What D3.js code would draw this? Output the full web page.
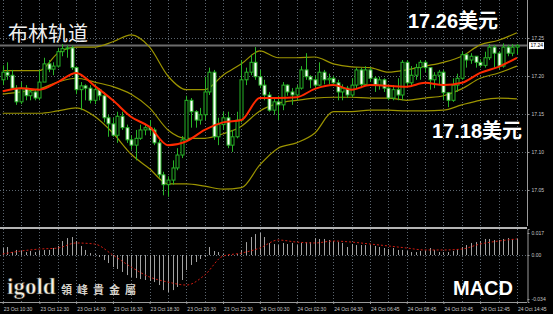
<!DOCTYPE html>
<html>
<head>
<meta charset="utf-8">
<script src="https://cdn.jsdelivr.net/npm/d3@7"></script>
<style>
  html, body { margin: 0; padding: 0; background: #000; }
  svg { display: block; }
</style>
</head>
<body>
<div id="chart"></div>
<script>

// chart data (M15 silver candles, 23 Oct 10:30 -> 24 Oct 14:45)

var firstOpen = 17.195;
var closes = [17.205, 17.201, 17.184, 17.166, 17.184, 17.174, 17.179, 17.171, 17.192, 17.216,
  17.209, 17.213, 17.232, 17.236, 17.237, 17.211, 17.182, 17.187, 17.184, 17.168,
  17.182, 17.174, 17.145, 17.137, 17.122, 17.147, 17.132, 17.116, 17.109, 17.118,
  17.129, 17.132, 17.129, 17.112, 17.070, 17.057, 17.063, 17.079, 17.096, 17.116,
  17.168, 17.153, 17.142, 17.149, 17.179, 17.205, 17.120, 17.136, 17.145, 17.109,
  17.120, 17.142, 17.195, 17.205, 17.218, 17.199, 17.188, 17.175, 17.155, 17.166,
  17.162, 17.188, 17.179, 17.175, 17.184, 17.208, 17.199, 17.195, 17.188, 17.205,
  17.195, 17.197, 17.191, 17.179, 17.184, 17.175, 17.188, 17.208, 17.189, 17.208,
  17.197, 17.188, 17.195, 17.184, 17.171, 17.182, 17.175, 17.218, 17.191, 17.201,
  17.211, 17.218, 17.211, 17.195, 17.201, 17.205, 17.178, 17.168, 17.188, 17.197,
  17.228, 17.221, 17.226, 17.218, 17.214, 17.224, 17.238, 17.230, 17.213, 17.238,
  17.230, 17.238, 17.240];
var highs = [17.214, 17.218, 17.208, 17.188, 17.192, 17.188, 17.184, 17.182, 17.208, 17.224,
  17.221, 17.218, 17.237, 17.242, 17.241, 17.240, 17.213, 17.192, 17.189, 17.188,
  17.189, 17.184, 17.179, 17.149, 17.145, 17.153, 17.153, 17.136, 17.122, 17.129,
  17.136, 17.137, 17.142, 17.132, 17.116, 17.074, 17.068, 17.089, 17.105, 17.121,
  17.174, 17.171, 17.155, 17.158, 17.199, 17.211, 17.208, 17.145, 17.153, 17.153,
  17.129, 17.153, 17.221, 17.211, 17.228, 17.238, 17.208, 17.195, 17.179, 17.171,
  17.174, 17.192, 17.189, 17.184, 17.188, 17.213, 17.230, 17.201, 17.200, 17.218,
  17.208, 17.203, 17.200, 17.195, 17.189, 17.187, 17.197, 17.211, 17.211, 17.213,
  17.211, 17.200, 17.199, 17.197, 17.187, 17.188, 17.197, 17.221, 17.221, 17.213,
  17.216, 17.221, 17.221, 17.208, 17.205, 17.208, 17.208, 17.179, 17.197, 17.203,
  17.232, 17.230, 17.230, 17.224, 17.222, 17.232, 17.242, 17.241, 17.232, 17.243,
  17.241, 17.242, 17.242];
var lows = [17.188, 17.195, 17.182, 17.162, 17.163, 17.168, 17.168, 17.168, 17.168, 17.195,
  17.205, 17.201, 17.211, 17.226, 17.224, 17.208, 17.176, 17.155, 17.168, 17.164,
  17.163, 17.168, 17.139, 17.120, 17.120, 17.112, 17.129, 17.112, 17.103, 17.089,
  17.116, 17.122, 17.122, 17.109, 17.066, 17.043, 17.041, 17.057, 17.076, 17.092,
  17.113, 17.132, 17.132, 17.136, 17.142, 17.175, 17.116, 17.109, 17.129, 17.105,
  17.100, 17.118, 17.139, 17.188, 17.201, 17.195, 17.184, 17.168, 17.153, 17.149,
  17.142, 17.155, 17.174, 17.162, 17.168, 17.182, 17.195, 17.184, 17.184, 17.187,
  17.189, 17.189, 17.187, 17.168, 17.168, 17.171, 17.172, 17.184, 17.184, 17.187,
  17.192, 17.179, 17.182, 17.179, 17.168, 17.168, 17.168, 17.168, 17.187, 17.188,
  17.195, 17.195, 17.205, 17.182, 17.184, 17.188, 17.168, 17.159, 17.166, 17.179,
  17.195, 17.211, 17.216, 17.211, 17.211, 17.211, 17.221, 17.211, 17.209, 17.211,
  17.226, 17.226, 17.229];

// bollinger bands + red MA, one value every 4 candles
var bandStep = 4;
var upperBand = [17.207, 17.207, 17.207, 17.230, 17.238, 17.238, 17.245, 17.254, 17.238, 17.200,
  17.182, 17.182, 17.201, 17.216, 17.233, 17.224, 17.224, 17.225, 17.216, 17.212,
  17.211, 17.205, 17.208, 17.213, 17.218, 17.226, 17.241, 17.247, 17.257];
var middleBand = [17.176, 17.179, 17.183, 17.192, 17.197, 17.192, 17.186, 17.176, 17.158, 17.129,
  17.118, 17.118, 17.124, 17.134, 17.154, 17.164, 17.168, 17.171, 17.172, 17.172,
  17.171, 17.171, 17.168, 17.171, 17.174, 17.183, 17.197, 17.204, 17.213];
var lowerBand = [17.151, 17.151, 17.151, 17.154, 17.158, 17.147, 17.125, 17.097, 17.078, 17.058,
  17.058, 17.055, 17.051, 17.053, 17.083, 17.105, 17.112, 17.125, 17.153, 17.153,
  17.155, 17.155, 17.154, 17.154, 17.155, 17.162, 17.168, 17.171, 17.170];
var redMA = [17.180, 17.184, 17.182, 17.192, 17.204, 17.187, 17.168, 17.146, 17.133, 17.109,
  17.114, 17.129, 17.139, 17.142, 17.171, 17.171, 17.172, 17.183, 17.188, 17.182,
  17.188, 17.187, 17.186, 17.191, 17.188, 17.191, 17.204, 17.212, 17.224];

// MACD histogram (one per candle) and signal line (every 4 candles)
var macdHist = [0.0054, 0.0062, 0.0023, 0.0039, 0.0031, 0.0023, 0.0031, 0.0023, 0.0031, 0.0039,
  0.0039, 0.0054, 0.0070, 0.0108, 0.0131, 0.0139, 0.0108, 0.0070, 0.0039, 0.0015,
  0.0008, -0.0015, -0.0039, -0.0062, -0.0093, -0.0108, -0.0131, -0.0155, -0.0170, -0.0178,
  -0.0186, -0.0193, -0.0201, -0.0209, -0.0232, -0.0271, -0.0286, -0.0271, -0.0247, -0.0193,
  -0.0116, -0.0077, -0.0054, -0.0031, -0.0015, 0.0062, 0.0031, 0.0023, 0.0008, -0.0008,
  0.0004, 0.0008, 0.0039, 0.0100, 0.0139, 0.0162, 0.0170, 0.0139, 0.0093, 0.0085,
  0.0077, 0.0093, 0.0085, 0.0093, 0.0077, 0.0093, 0.0100, 0.0100, 0.0131, 0.0124,
  0.0124, 0.0116, 0.0108, 0.0100, 0.0093, 0.0062, 0.0085, 0.0077, 0.0077, 0.0077,
  0.0077, 0.0070, 0.0062, 0.0054, 0.0046, 0.0054, 0.0039, 0.0039, 0.0031, 0.0023,
  0.0023, 0.0031, 0.0031, 0.0054, 0.0039, 0.0023, 0.0023, 0.0023, 0.0031, 0.0046,
  0.0062, 0.0077, 0.0093, 0.0100, 0.0108, 0.0124, 0.0124, 0.0116, 0.0116, 0.0124,
  0.0131, 0.0124, 0.0124];
var macdSignal = [0.0008, 0.0031, 0.0046, 0.0054, 0.0093, 0.0085, 0.0000, -0.0093, -0.0170, -0.0209,
  -0.0232, -0.0155, -0.0008, 0.0015, 0.0054, 0.0116, 0.0100, 0.0093, 0.0108, 0.0100,
  0.0085, 0.0070, 0.0054, 0.0039, 0.0039, 0.0046, 0.0085, 0.0108, 0.0124];

// tick labels
var priceTicks = [17.25, 17.20, 17.15, 17.10, 17.05];
var macdTicks = [0.017, 0, -0.034];
var macdTickLabels = ['0.017', '0.00', '-0.034'];
var timeTickIdx = [0, 8, 16, 24, 32, 40, 48, 56, 64, 72, 80, 88, 96, 104, 112];
var timeLabels = ['23 Oct 10:30', '23 Oct 12:30', '23 Oct 14:30', '23 Oct 16:30', '23 Oct 18:30',
  '23 Oct 20:30', '23 Oct 22:30', '24 Oct 00:30', '24 Oct 02:30', '24 Oct 04:30',
  '24 Oct 06:45', '24 Oct 08:45', '24 Oct 10:45', '24 Oct 12:45', '24 Oct 14:45'];

// SVG sizes
var svgWidth = 553;
var svgHeight = 314;
var plotRight = 527;
var mainBottom = 226;
var macdTop = 229;
var macdBottom = 302;

var green = '#27b327';
var olive = '#9c9400';
var gridColor = '#5c6670';

var svg = d3.select('#chart')
  .append('svg')
  .attr('width', svgWidth)
  .attr('height', svgHeight)
  .style('background', '#000');

// scales
var x = d3.scaleLinear().domain([-0.59, 114.2]).range([0, plotRight]);
var y = d3.scaleLinear().domain([17.0026, 17.30]).range([mainBottom, 0]);
var ym = d3.scaleLinear().domain([-0.0363, 0.0201]).range([macdBottom, macdTop]);

function px(i) { return Math.round(x(i)) + 0.5; }

// grid: dotted verticals every hour, horizontals at price ticks
var grid = svg.append('g');
d3.range(0, 113, 4).forEach(function (i) {
  [[0, mainBottom], [macdTop, macdBottom]].forEach(function (r) {
    grid.append('line')
      .attr('x1', px(i)).attr('x2', px(i))
      .attr('y1', r[0]).attr('y2', r[1])
      .attr('stroke', gridColor).attr('stroke-dasharray', '1,2');
  });
});
priceTicks.forEach(function (p) {
  grid.append('line')
    .attr('x1', 0).attr('x2', plotRight)
    .attr('y1', Math.round(y(p)) + 0.5).attr('y2', Math.round(y(p)) + 0.5)
    .attr('stroke', gridColor).attr('stroke-dasharray', '1,2');
});
grid.append('line')
  .attr('x1', 0).attr('x2', plotRight)
  .attr('y1', Math.round(ym(0)) + 0.5).attr('y2', Math.round(ym(0)) + 0.5)
  .attr('stroke', gridColor).attr('stroke-dasharray', '1,2');

// bid line
var lastClose = closes[closes.length - 1];
svg.append('line')
  .attr('x1', 0).attr('x2', plotRight)
  .attr('y1', y(lastClose)).attr('y2', y(lastClose))
  .attr('stroke', '#6c6c6c').attr('stroke-width', 2);

// bands
var bandLine = d3.line()
  .x(function (d, i) { return x(i * bandStep); })
  .y(function (d) { return y(d); })
  .curve(d3.curveMonotoneX);

[upperBand, middleBand, lowerBand].forEach(function (b) {
  svg.append('path').datum(b)
    .attr('d', bandLine)
    .attr('fill', 'none')
    .attr('stroke', olive)
    .attr('stroke-width', 1.2);
});

// candles
var candles = closes.map(function (c, i) {
  return { i: i, o: i ? closes[i - 1] : firstOpen, c: c, h: highs[i], l: lows[i] };
});

var cg = svg.append('g');
cg.selectAll('line.wick')
  .data(candles)
  .enter()
  .append('line')
  .attr('class', 'wick')
  .attr('x1', function (d) { return px(d.i); })
  .attr('x2', function (d) { return px(d.i); })
  .attr('y1', function (d) { return y(d.h); })
  .attr('y2', function (d) { return y(d.l); })
  .attr('stroke', green);

cg.selectAll('rect')
  .data(candles)
  .enter()
  .append('rect')
  .attr('x', function (d) { return px(d.i) - 1.5; })
  .attr('width', 3)
  .attr('y', function (d) { return y(Math.max(d.o, d.c)); })
  .attr('height', function (d) { return Math.max(1, Math.abs(y(d.o) - y(d.c))); })
  .attr('fill', function (d) { return d.c < d.o ? '#ffffff' : '#000000'; })
  .attr('stroke', green)
  .attr('stroke-width', 1);

// red moving average, drawn on top
svg.append('path').datum(redMA)
  .attr('d', bandLine)
  .attr('fill', 'none')
  .attr('stroke', '#ff2a00')
  .attr('stroke-width', 2);

// MACD panel
svg.append('g').selectAll('line')
  .data(macdHist)
  .enter()
  .append('line')
  .attr('x1', function (d, i) { return px(i); })
  .attr('x2', function (d, i) { return px(i); })
  .attr('y1', ym(0))
  .attr('y2', function (d) { return ym(d); })
  .attr('stroke', '#a2a2a2');

svg.append('path').datum(macdSignal)
  .attr('d', d3.line()
    .x(function (d, i) { return x(i * bandStep); })
    .y(function (d) { return ym(d); })
    .curve(d3.curveMonotoneX))
  .attr('fill', 'none')
  .attr('stroke', '#d01a10')
  .attr('stroke-width', 1)
  .attr('stroke-dasharray', '2,2');

// panel separators
svg.append('rect').attr('x', 0).attr('y', 227).attr('width', plotRight).attr('height', 2).attr('fill', '#b4b4b4');
svg.append('line').attr('x1', 0).attr('x2', plotRight).attr('y1', macdBottom + 0.5).attr('y2', macdBottom + 0.5).attr('stroke', '#9a9a9a');

// axes
function styleAxis(g) {
  g.selectAll('path.domain').attr('stroke', '#9a9a9a');
  g.selectAll('.tick line').attr('stroke', '#9a9a9a');
  g.selectAll('text').attr('fill', '#c8c8c8').style('font-family', 'Liberation Sans, Arial, sans-serif').style('font-size', '5px');
}

var yAxis = svg.append('g')
  .attr('transform', 'translate(' + (plotRight + 0.5) + ',0)')
  .call(d3.axisRight(y).tickValues(priceTicks).tickFormat(d3.format('.2f')).tickSize(2).tickPadding(2));
yAxis.select('path.domain').attr('d', 'M0,0V' + mainBottom);
styleAxis(yAxis);

var mAxis = svg.append('g')
  .attr('transform', 'translate(' + (plotRight + 0.5) + ',0)')
  .call(d3.axisRight(ym).tickValues(macdTicks)
    .tickFormat(function (d, i) { return macdTickLabels[i]; }).tickSize(2).tickPadding(2));
styleAxis(mAxis);

var xAxis = svg.append('g')
  .attr('transform', 'translate(0,' + macdBottom + ')')
  .call(d3.axisBottom(x).tickValues(timeTickIdx)
    .tickFormat(function (d, i) { return timeLabels[i]; }).tickSize(2).tickPadding(3));
xAxis.select('path.domain').remove();
xAxis.selectAll('.tick text').attr('text-anchor', 'start').attr('dx', '0.5');
styleAxis(xAxis);

// current price box
var boxY = y(lastClose);
svg.append('rect')
  .attr('x', 529).attr('y', boxY - 3.5).attr('width', 15).attr('height', 7)
  .attr('fill', '#ffffff');
svg.append('text')
  .attr('x', 530.5).attr('y', boxY + 1.8)
  .attr('fill', '#000')
  .style('font-family', 'Liberation Sans, Arial, sans-serif')
  .style('font-size', '5px')
  .text(d3.format('.2f')(lastClose));

// titles and annotations
svg.append('text')
  .attr('x', 8).attr('y', 41)
  .attr('fill', '#efefef')
  .style('font-family', 'Noto Sans CJK SC')
  .style('font-size', '20px')
  .text('布林轨道');

function bigLabel(txt, tx, ty) {
  svg.append('text')
    .attr('x', tx).attr('y', ty)
    .attr('fill', '#ffffff')
    .style('font-family', 'Liberation Sans, Noto Sans CJK SC, sans-serif')
    .style('font-weight', 'bold')
    .style('font-size', '20px')
    .text(txt);
}
bigLabel('17.26美元', 408, 28);
bigLabel('17.18美元', 432, 138);
bigLabel('MACD', 453, 295);

// logo
svg.append('text')
  .attr('x', 7).attr('y', 294)
  .attr('fill', '#f6f1e4')
  .attr('stroke', '#2a2418').attr('stroke-width', 0.6)
  .style('font-family', 'Liberation Serif, serif')
  .style('font-weight', 'bold')
  .style('font-size', '23px')
  .text('igold');
svg.append('text')
  .attr('x', 61).attr('y', 294)
  .attr('fill', '#d8d4cc')
  .style('font-family', 'Noto Sans CJK TC')
  .style('font-weight', 'bold')
  .style('font-size', '11px')
  .style('letter-spacing', '5px')
  .text('領峰貴金屬');

</script>
</body>
</html>
